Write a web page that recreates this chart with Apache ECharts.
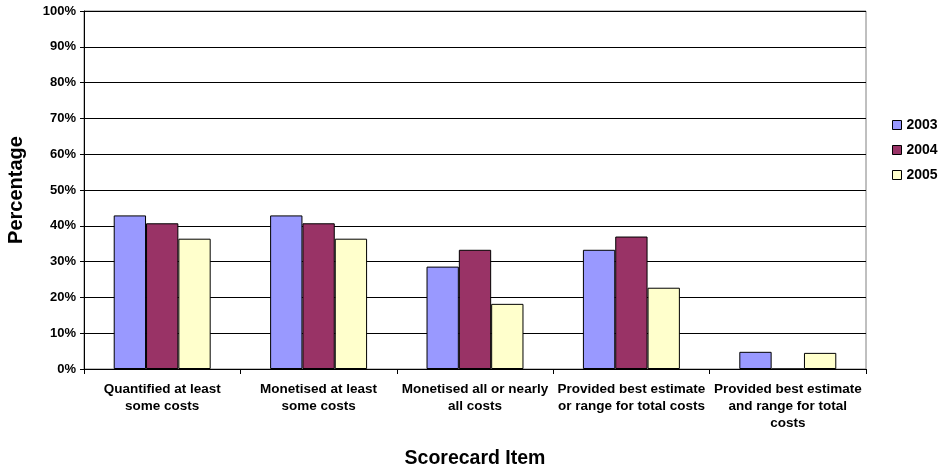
<!DOCTYPE html>
<html>
<head>
<meta charset="utf-8">
<script src="https://cdn.jsdelivr.net/npm/echarts@6/dist/echarts.min.js"></script>
<style>
html,body{margin:0;padding:0;background:#fff;}
#chart{width:951px;height:468px;}
</style>
</head>
<body>
<div id="chart"></div>
<script>
var categories = [
  "Quantified at least\nsome costs",
  "Monetised at least\nsome costs",
  "Monetised all or nearly\nall costs",
  "Provided best estimate\nor range for total costs",
  "Provided best estimate\nand range for total\ncosts"
];
var seriesNames = ["2003", "2004", "2005"];
var values2003 = [42.9, 42.9, 28.6, 33.3, 4.8];
var values2004 = [40.7, 40.7, 33.3, 37.0, 0];
var values2005 = [36.4, 36.4, 18.2, 22.7, 4.5];
var colors = ["#9999FF", "#993366", "#FFFFCC"];
var yTicks = [0, 10, 20, 30, 40, 50, 60, 70, 80, 90, 100];

var font = "Liberation Sans, Arial, sans-serif";
var allValues = [values2003, values2004, values2005];

var chart = echarts.init(document.getElementById('chart'));
chart.setOption({
  animation: false,
  textStyle: {fontFamily: font},
  grid: {left: 84, right: 85, top: 11, bottom: 99, show: true, borderColor: '#808080', borderWidth: 1, containLabel: false, outerBoundsMode: 'none'},
  legend: {
    orient: 'vertical',
    left: 887, top: 113,
    itemWidth: 9, itemHeight: 9, itemGap: 11,
    icon: 'rect',
    itemStyle: {borderColor: '#000', borderWidth: 1},
    textStyle: {fontSize: 14, fontWeight: 'bold', color: '#000', fontFamily: font},
    data: seriesNames
  },
  xAxis: {
    type: 'category',
    data: categories,
    name: 'Scorecard Item',
    nameLocation: 'middle',
    nameGap: 80,
    nameTextStyle: {fontSize: 19.5, fontWeight: 'bold', color: '#000', fontFamily: font},
    axisLine: {lineStyle: {color: '#000', width: 1}},
    axisTick: {show: true, length: 5, lineStyle: {color: '#000'}},
    axisLabel: {fontSize: 13.5, fontWeight: 'bold', color: '#000', margin: 12, lineHeight: 17, interval: 0, fontFamily: font}
  },
  yAxis: {
    type: 'value',
    min: yTicks[0], max: yTicks[yTicks.length - 1], interval: 10,
    name: 'Percentage',
    nameLocation: 'middle',
    nameGap: 58,
    nameRotate: 90,
    nameTextStyle: {fontSize: 20, fontWeight: 'bold', color: '#000', fontFamily: font},
    axisLine: {show: true, lineStyle: {color: '#000', width: 1}},
    axisTick: {show: true, length: 4, lineStyle: {color: '#000'}},
    axisLabel: {formatter: '{value}%', fontSize: 13, fontWeight: 'bold', color: '#000', margin: 8, fontFamily: font},
    splitLine: {show: true, lineStyle: {color: '#000', width: 1}}
  },
  series: seriesNames.map(function (n, i) {
    return {
      name: n,
      type: 'bar',
      data: allValues[i],
      barGap: '0%',
      barCategoryGap: '38%',
      itemStyle: {color: colors[i], borderColor: '#000', borderWidth: 1}
    };
  })
});
</script>
</body>
</html>
